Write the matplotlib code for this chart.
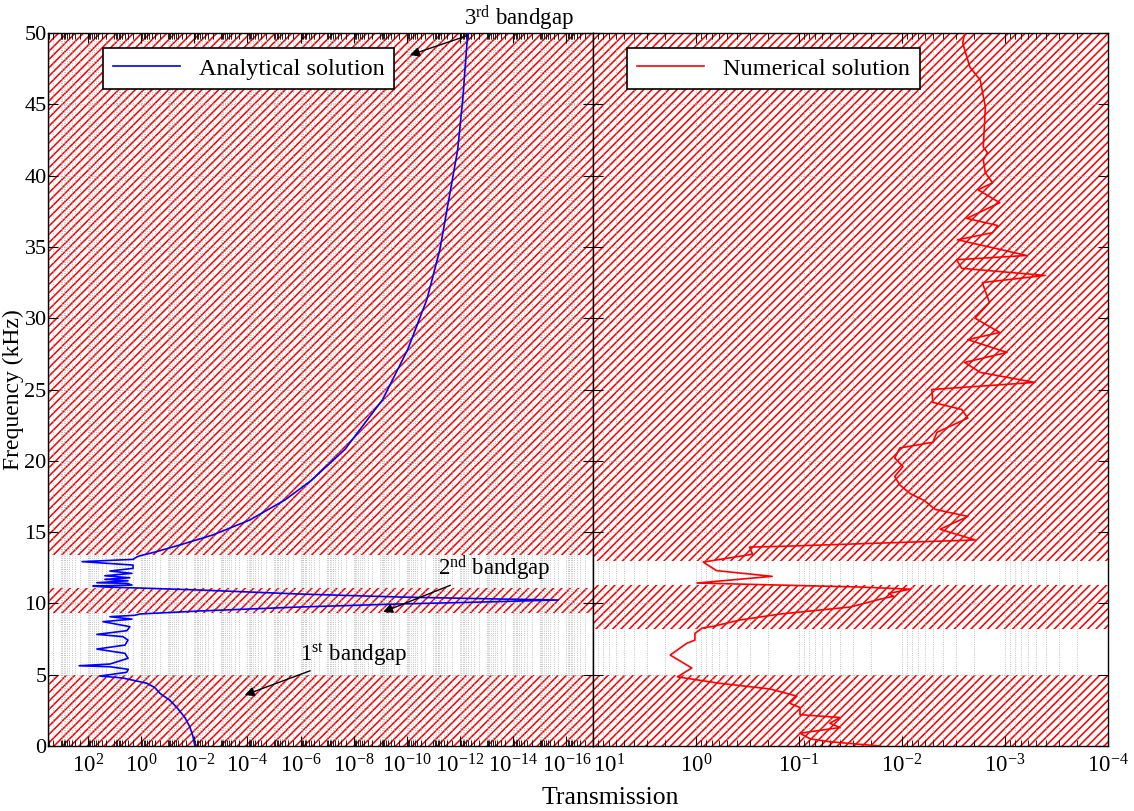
import matplotlib
matplotlib.use("Agg")
import matplotlib.pyplot as plt
import numpy as np
from matplotlib.ticker import FixedLocator, FixedFormatter, LogLocator, NullFormatter

plt.rcParams["font.family"] = ["Liberation Serif", "DejaVu Serif"]
plt.rcParams["mathtext.fontset"] = "custom"
plt.rcParams["mathtext.rm"] = "Liberation Serif"
plt.rcParams["mathtext.it"] = "Liberation Serif:italic"
plt.rcParams["hatch.linewidth"] = 1.15
plt.rcParams["hatch.color"] = "red"

# === data ===
# analytical solution: frequency (kHz) and log10 of transmission
ana_freq = [0.0, 0.7, 1.33, 2.0, 2.7, 3.2, 3.7, 4.1, 4.4, 4.77, 4.91,
            5.17, 5.38, 5.56, 5.63, 5.75, 6.15, 6.5, 6.8, 7.08, 7.43, 7.67,
            7.83, 8.09, 8.37, 8.72, 8.9, 9.07, 9.17, 9.26,
            9.47, 9.75, 9.96, 10.13, 10.24, 10.31, 10.45, 10.66, 10.94,
            11.08, 11.15, 11.22, 11.29, 11.41, 11.45, 11.59, 11.69, 11.8,
            11.94, 12.11, 12.27, 12.46, 12.69, 12.93, 13.09, 13.27, 13.34,
            13.6, 14.1, 14.8, 15.85, 17.25, 18.65, 20.8, 24.3, 27.8, 31.3,
            34.8, 41.8, 45.3, 50.0]
ana_logt = [-2.03, -1.95, -1.84, -1.65, -1.35, -1.09, -0.71, -0.52, -0.22,
            0.68, 1.55,
            0.54, 0.48, 1.17, 2.33, 1.17, 0.49, 0.6, 1.66, 0.6, 0.49, 0.68,
            1.66, 0.53, 0.42, 1.43, 0.34, 1.17, 0.23, 0.04,
            -2.2, -5.97, -9.7, -13.5, -15.7, -13.5, -9.7, -5.97, -2.2,
            0.04, 1.36, 1.81, 0.34, 0.53, 1.66, 0.49, 1.36, 0.42,
            1.36, 0.34, 1.17, 0.3, 0.3, 2.22, 0.3, 0.15, 0.04,
            -0.52, -1.46, -2.70, -4.09, -5.41, -6.42, -7.67, -9.09, -10.03,
            -10.75, -11.24, -11.91, -12.10, -12.29]

# numerical solution: frequency (kHz) and log10 of transmission
num_freq = [0.0, 0.3, 0.5, 0.9, 1.3, 1.6, 2.0, 2.2, 2.7, 3.0, 3.5, 4.0,
            4.4, 4.85, 5.47, 6.38, 7.2, 7.43, 7.9, 8.27, 8.4, 8.84, 9.26,
            9.75, 10.3, 10.5, 10.7, 11.0, 11.15, 11.43, 11.9, 12.3, 12.9,
            13.45, 13.95, 14.0, 14.45, 15.2, 16.1, 16.6, 17.2, 17.7, 18.3,
            18.9, 19.6, 20.2, 20.9, 21.3, 22.0, 23.0, 23.6, 24.1, 25.0,
            25.5, 26.2, 26.9, 27.6, 28.5, 29.0, 30.0, 31.1, 32.5, 33.0,
            33.5, 34.1, 34.4, 35.5, 36.0, 36.5, 37.0, 38.1, 39.0, 39.5,
            40.2, 41.1, 41.6, 42.0, 44.8, 46.7, 47.6, 49.3, 50.0]
num_logt = [-1.79, -1.30, -1.11, -1.01, -1.40, -1.30, -1.40, -1.01, -1.01,
            -0.91, -0.98, -0.72, -0.23, 0.18, 0.04, 0.25, 0.09, 0.01, 0.01,
            -0.06, -0.17, -0.43, -0.82, -1.50, -1.79, -1.92, -1.87, -2.08,
            -1.59, -0.01, -0.74, -0.2, -0.07, -0.55, -0.52, -0.82, -2.71,
            -2.37, -2.64, -2.32, -2.22, -2.08, -1.98, -1.93, -2.01, -1.93,
            -1.98, -2.30, -2.34, -2.64, -2.58, -2.30, -2.29, -3.29, -2.76,
            -2.61, -3.02, -2.64, -2.95, -2.71, -2.85, -2.78, -3.39, -2.58,
            -2.53, -3.21, -2.54, -2.88, -2.93, -2.63, -2.95, -2.74, -2.88,
            -2.81, -2.79, -2.83, -2.79, -2.81, -2.76, -2.66, -2.59, -2.61]

# stop bands (kHz) shown hatched
ana_bands = [(0.0, 4.95), (9.33, 11.1), (13.4, 50.0)]
num_bands = [(0.0, 4.95), (8.2, 11.3), (12.97, 50.0)]

left_ticks = [1e2, 1e0, 1e-2, 1e-4, 1e-6, 1e-8, 1e-10, 1e-12, 1e-14, 1e-16]
left_labels = ["$10^{2}$", "$10^{0}$", "$10^{-2}$", "$10^{-4}$", "$10^{-6}$",
               "$10^{-8}$", "$10^{-10}$", "$10^{-12}$", "$10^{-14}$",
               "$10^{-16}$"]
right_ticks = [1e1, 1e0, 1e-1, 1e-2, 1e-3, 1e-4]
right_labels = ["$10^{1}$", "$10^{0}$", "$10^{-1}$", "$10^{-2}$",
                "$10^{-3}$", "$10^{-4}$"]
freq_ticks = [0, 5, 10, 15, 20, 25, 30, 35, 40, 45, 50]

fs = 18.5
tick_fs = 16.5
ytick_fs = 16
ylab_fs = 17
leg_fs = 17.5
ann_fs = 16.5

fig = plt.figure(figsize=(11.34, 8.11), dpi=100)
ax1 = fig.add_axes([0.0423, 0.0801, 0.4806, 0.8792])
ax2 = fig.add_axes([0.5229, 0.0801, 0.4541, 0.8792])


def style_axis(ax, bands, ticks, labels, xlim):
    for lo, hi in bands:
        ax.axhspan(lo, hi, facecolor="white", edgecolor="red",
                   hatch="////", linewidth=0, zorder=0.5)
    ax.set_xscale("log")
    ax.set_xlim(xlim)
    ax.set_ylim(0, 50)
    ax.xaxis.set_major_locator(FixedLocator(ticks))
    ax.xaxis.set_major_formatter(FixedFormatter(labels))
    ax.xaxis.set_minor_locator(LogLocator(base=10, subs=np.arange(1, 10),
                                          numticks=400))
    ax.xaxis.set_minor_formatter(NullFormatter())
    ax.set_yticks(freq_ticks)
    ax.tick_params(axis="both", which="both", direction="in", top=True,
                   right=True)
    ax.tick_params(axis="x", which="major", labelsize=tick_fs, pad=6)
    ax.tick_params(axis="y", which="major", labelsize=ytick_fs, pad=1)
    ax.tick_params(axis="both", which="major", length=7, width=0.8)
    ax.tick_params(axis="x", which="minor", length=4, width=0.6)
    ax.grid(True, which="both", axis="x", linestyle=":", color="#b0b0b0",
            linewidth=0.6)
    ax.grid(True, which="major", axis="y", linestyle=":", color="#b0b0b0",
            linewidth=0.6)
    for sp in ax.spines.values():
        sp.set_linewidth(1.0)


style_axis(ax1, ana_bands, left_ticks, left_labels, (10 ** 3.5, 1e-17))
style_axis(ax2, num_bands, right_ticks, right_labels, (1e1, 1e-4))
ax2.tick_params(axis="y", labelleft=False)
ax2.get_xticklabels()[0].set_horizontalalignment("left")

ax1.plot(10.0 ** np.array(ana_logt), ana_freq, color="blue", linewidth=1.2,
         label="Analytical solution", zorder=3)
ax2.plot(10.0 ** np.array(num_logt), num_freq, color="red", linewidth=1.2,
         label="Numerical solution", zorder=3)

for ax, anchor in ((ax1, (0.101, 0.979)), (ax2, (0.066, 0.979))):
    lg = ax.legend(loc="upper left", bbox_to_anchor=anchor, borderaxespad=0,
                   fontsize=leg_fs, fancybox=False, framealpha=1,
                   edgecolor="black", handlelength=2.75)
    lg.get_frame().set_linewidth(1.2)

ax1.set_ylabel("Frequency (kHz)", fontsize=ylab_fs)
ax1.yaxis.set_label_coords(-0.0445, 0.5)
fig.text(0.538, 0.003, "Transmission", fontsize=fs, ha="center", va="bottom")

arrow = dict(arrowstyle="-|>", color="black", lw=1.0, shrinkA=0, shrinkB=0,
             mutation_scale=14)
ax1.annotate("3$^{\\mathrm{rd}}$ bandgap", xy=(0.664, 0.969),
             xytext=(0.764, 1.021), xycoords="axes fraction",
             textcoords="axes fraction", fontsize=ann_fs, ha="left",
             va="center", arrowprops=arrow, annotation_clip=False)
ax1.annotate("2$^{\\mathrm{nd}}$ bandgap", xy=(0.615, 0.188),
             xytext=(0.716, 0.25), xycoords="axes fraction",
             textcoords="axes fraction", fontsize=ann_fs, ha="left",
             va="center", arrowprops=arrow)
ax1.annotate("1$^{\\mathrm{st}}$ bandgap", xy=(0.361, 0.0715),
             xytext=(0.462, 0.128), xycoords="axes fraction",
             textcoords="axes fraction", fontsize=ann_fs, ha="left",
             va="center", arrowprops=arrow)

fig.savefig("out.png", dpi=100)
plt.close(fig)
